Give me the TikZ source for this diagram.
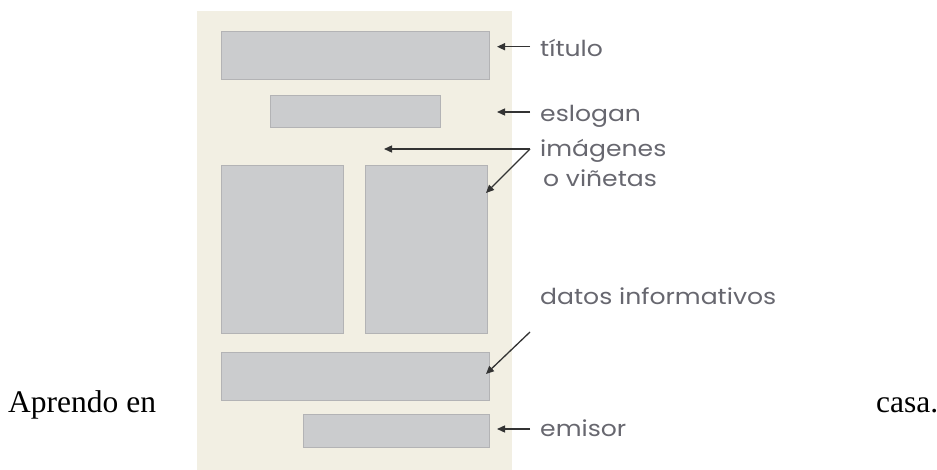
\documentclass[tikz,border=0pt]{standalone}
\usepackage{fontspec}
\setmainfont{Liberation Serif}
\newfontfamily\labelfont[FakeStretch=1.14]{Poppins}
\usetikzlibrary{arrows.meta}
\definecolor{panel}{HTML}{F2EFE3}
\definecolor{boxfill}{HTML}{CBCCCE}
\definecolor{boxline}{HTML}{B3B3B5}
\definecolor{labelcol}{HTML}{67676F}
\definecolor{arrowcol}{HTML}{333333}
\tikzset{
  box/.style={draw=boxline, fill=boxfill, line width=1.2pt, anchor=north west, inner sep=0pt},
  lbl/.style={anchor=base west, inner sep=0pt, text=labelcol, font=\labelfont\fontsize{22}{26}\selectfont},
  arr/.style={draw=arrowcol, line width=1.3pt, -{Triangle[length=8pt,width=7pt]}},
  serif/.style={anchor=base west, inner sep=0pt, font=\fontsize{31.5}{36}\selectfont}
}
\begin{document}
\begin{tikzpicture}[x=1pt,y=-1pt]
\useasboundingbox (0,0) rectangle (937,470);
% panel
\node[fill=panel, anchor=north west, inner sep=0pt, minimum width=315pt, minimum height=459pt] (panel) at (197,11) {};
% boxes
\node[box, minimum width=268pt, minimum height=48pt] (titulo) at (221,31) {};
\node[box, minimum width=170pt, minimum height=32pt] (eslogan) at (270,95) {};
\node[box, minimum width=122pt, minimum height=168pt] (imgL) at (221,165) {};
\node[box, minimum width=122pt, minimum height=168pt] (imgR) at (365,165) {};
\node[box, minimum width=268pt, minimum height=48pt] (datos) at (221,352) {};
\node[box, minimum width=186pt, minimum height=33pt] (emisor) at (303,414) {};
% labels
\node[lbl] (ltit) at (540,57) {título};
\node[lbl] (lesl) at (540,122) {eslogan};
\node[lbl] (limg) at (540,157) {imágenes};
\node[lbl] (limg2) at (543,187) {o viñetas};
\node[lbl] (ldat) at (540,305) {datos informativos};
\node[lbl] (lemi) at (540,436) {emisor};
% connector coordinates
\coordinate (stit) at (530,46.7);
\coordinate (ttit) at (497,46.7);
\coordinate (sesl) at (530,112);
\coordinate (tesl) at (497,112);
\coordinate (simg) at (530,149);
\coordinate (timg1) at (384,149);
\coordinate (timg2) at (486,193);
\coordinate (sdat) at (530,332);
\coordinate (tdat) at (486,374);
\coordinate (semi) at (530,429);
\coordinate (temi) at (497,429);
\draw[arr] (stit) -- (ttit);
\draw[arr] (sesl) -- (tesl);
\draw[arr] (simg) -- (timg1);
\draw[arr] (simg) -- (timg2);
\draw[arr] (sdat) -- (tdat);
\draw[arr] (semi) -- (temi);
% side text
\node[serif] (aprendo) at (8,412) {Aprendo en};
\node[serif] (casa) at (876,412) {casa.};
\end{tikzpicture}
\end{document}
